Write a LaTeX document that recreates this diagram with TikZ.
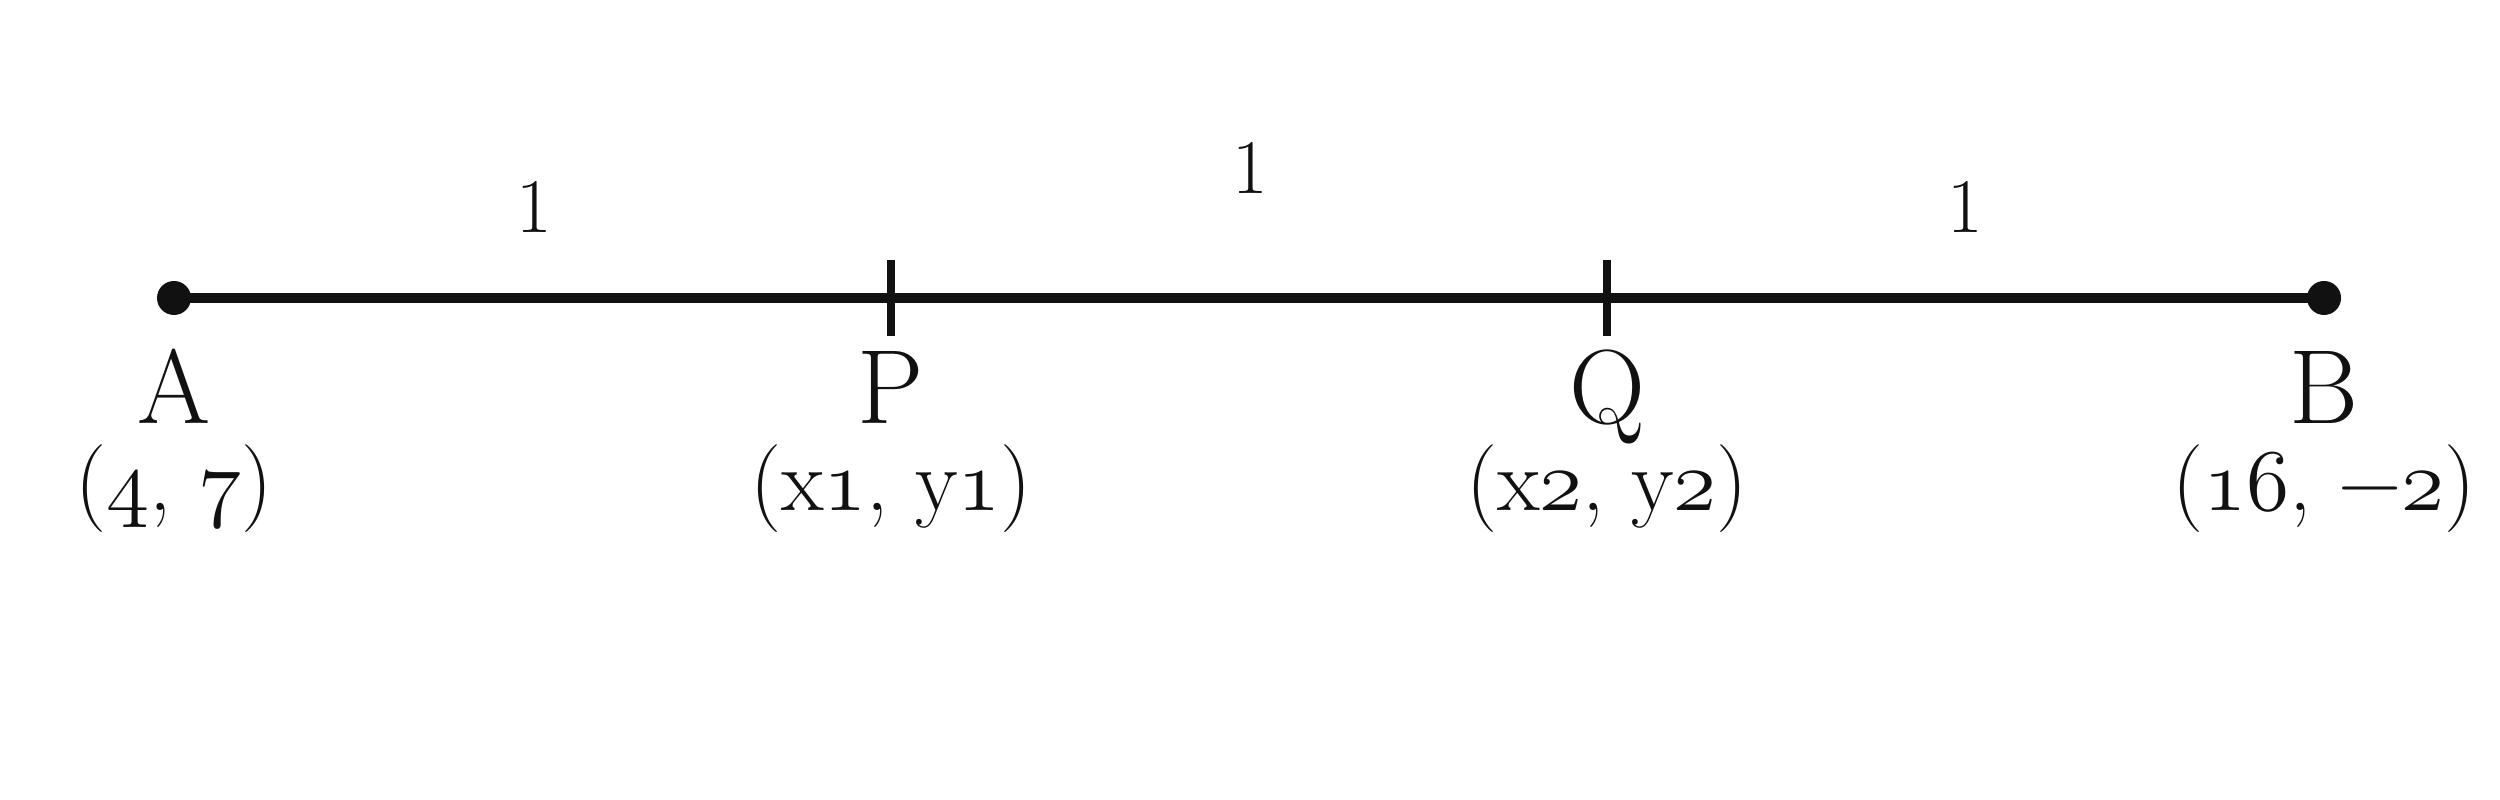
\RequirePackage{fix-cm}
\documentclass[tikz,border=0pt]{standalone}
\usetikzlibrary{positioning}
\definecolor{ink}{HTML}{111111}
\newcommand{\osn}[1]{{\fontencoding{OML}\fontfamily{cmm}\fontshape{it}\selectfont #1}}

\begin{document}
\begin{tikzpicture}[
    seg/.style={line width=2.8pt,draw=ink},
    tick/.style={line width=2.2pt,draw=ink},
    ptname/.style={anchor=base,inner sep=0pt,text=ink,font=\fontsize{30}{34}\selectfont},
    ptcoord/.style={anchor=base,inner sep=0pt,text=ink,font=\fontsize{25}{29}\selectfont},
    dist/.style={anchor=base,inner sep=0pt,text=ink,font=\fontsize{22}{26}\selectfont}]
\useasboundingbox (0,0) rectangle (25,8);

\coordinate (A) at (1.74,5.02);
\coordinate (P) at (8.91,5.02);
\coordinate (Q) at (16.07,5.02);
\coordinate (B) at (23.24,5.02);

\draw[seg] (A) -- (P) -- (Q) -- (B);
\fill[ink] (A) circle (0.17);
\fill[ink] (B) circle (0.17);
\draw[tick] ([yshift=-3.8mm]P) -- ([yshift=3.8mm]P);
\draw[tick] ([yshift=-3.8mm]Q) -- ([yshift=3.8mm]Q);

\node[dist] (dAP) at (5.34,5.67)  {1};
\node[dist] (dPQ) at (12.50,6.06) {1};
\node[dist] (dQB) at (19.65,5.67) {1};

\node[ptname] (nA) at (1.74,3.76)  {A};
\node[ptname] (nP) at (8.91,3.76)  {P};
\node[ptname] (nQ) at (16.07,3.76) {Q};
\node[ptname] (nB) at (23.24,3.76) {B};

\node[ptcoord] (cA) at (1.74,2.89)  {(\osn{4}, \osn{7})};
\node[ptcoord] (cP) at (8.91,2.89)  {(x\osn{1}, y\osn{1})};
\node[ptcoord] (cQ) at (16.07,2.89) {(x\osn{2}, y\osn{2})};
\node[ptcoord] (cB) at (23.24,2.89) {(\osn{16}, −\osn{2})};
\end{tikzpicture}
\end{document}
